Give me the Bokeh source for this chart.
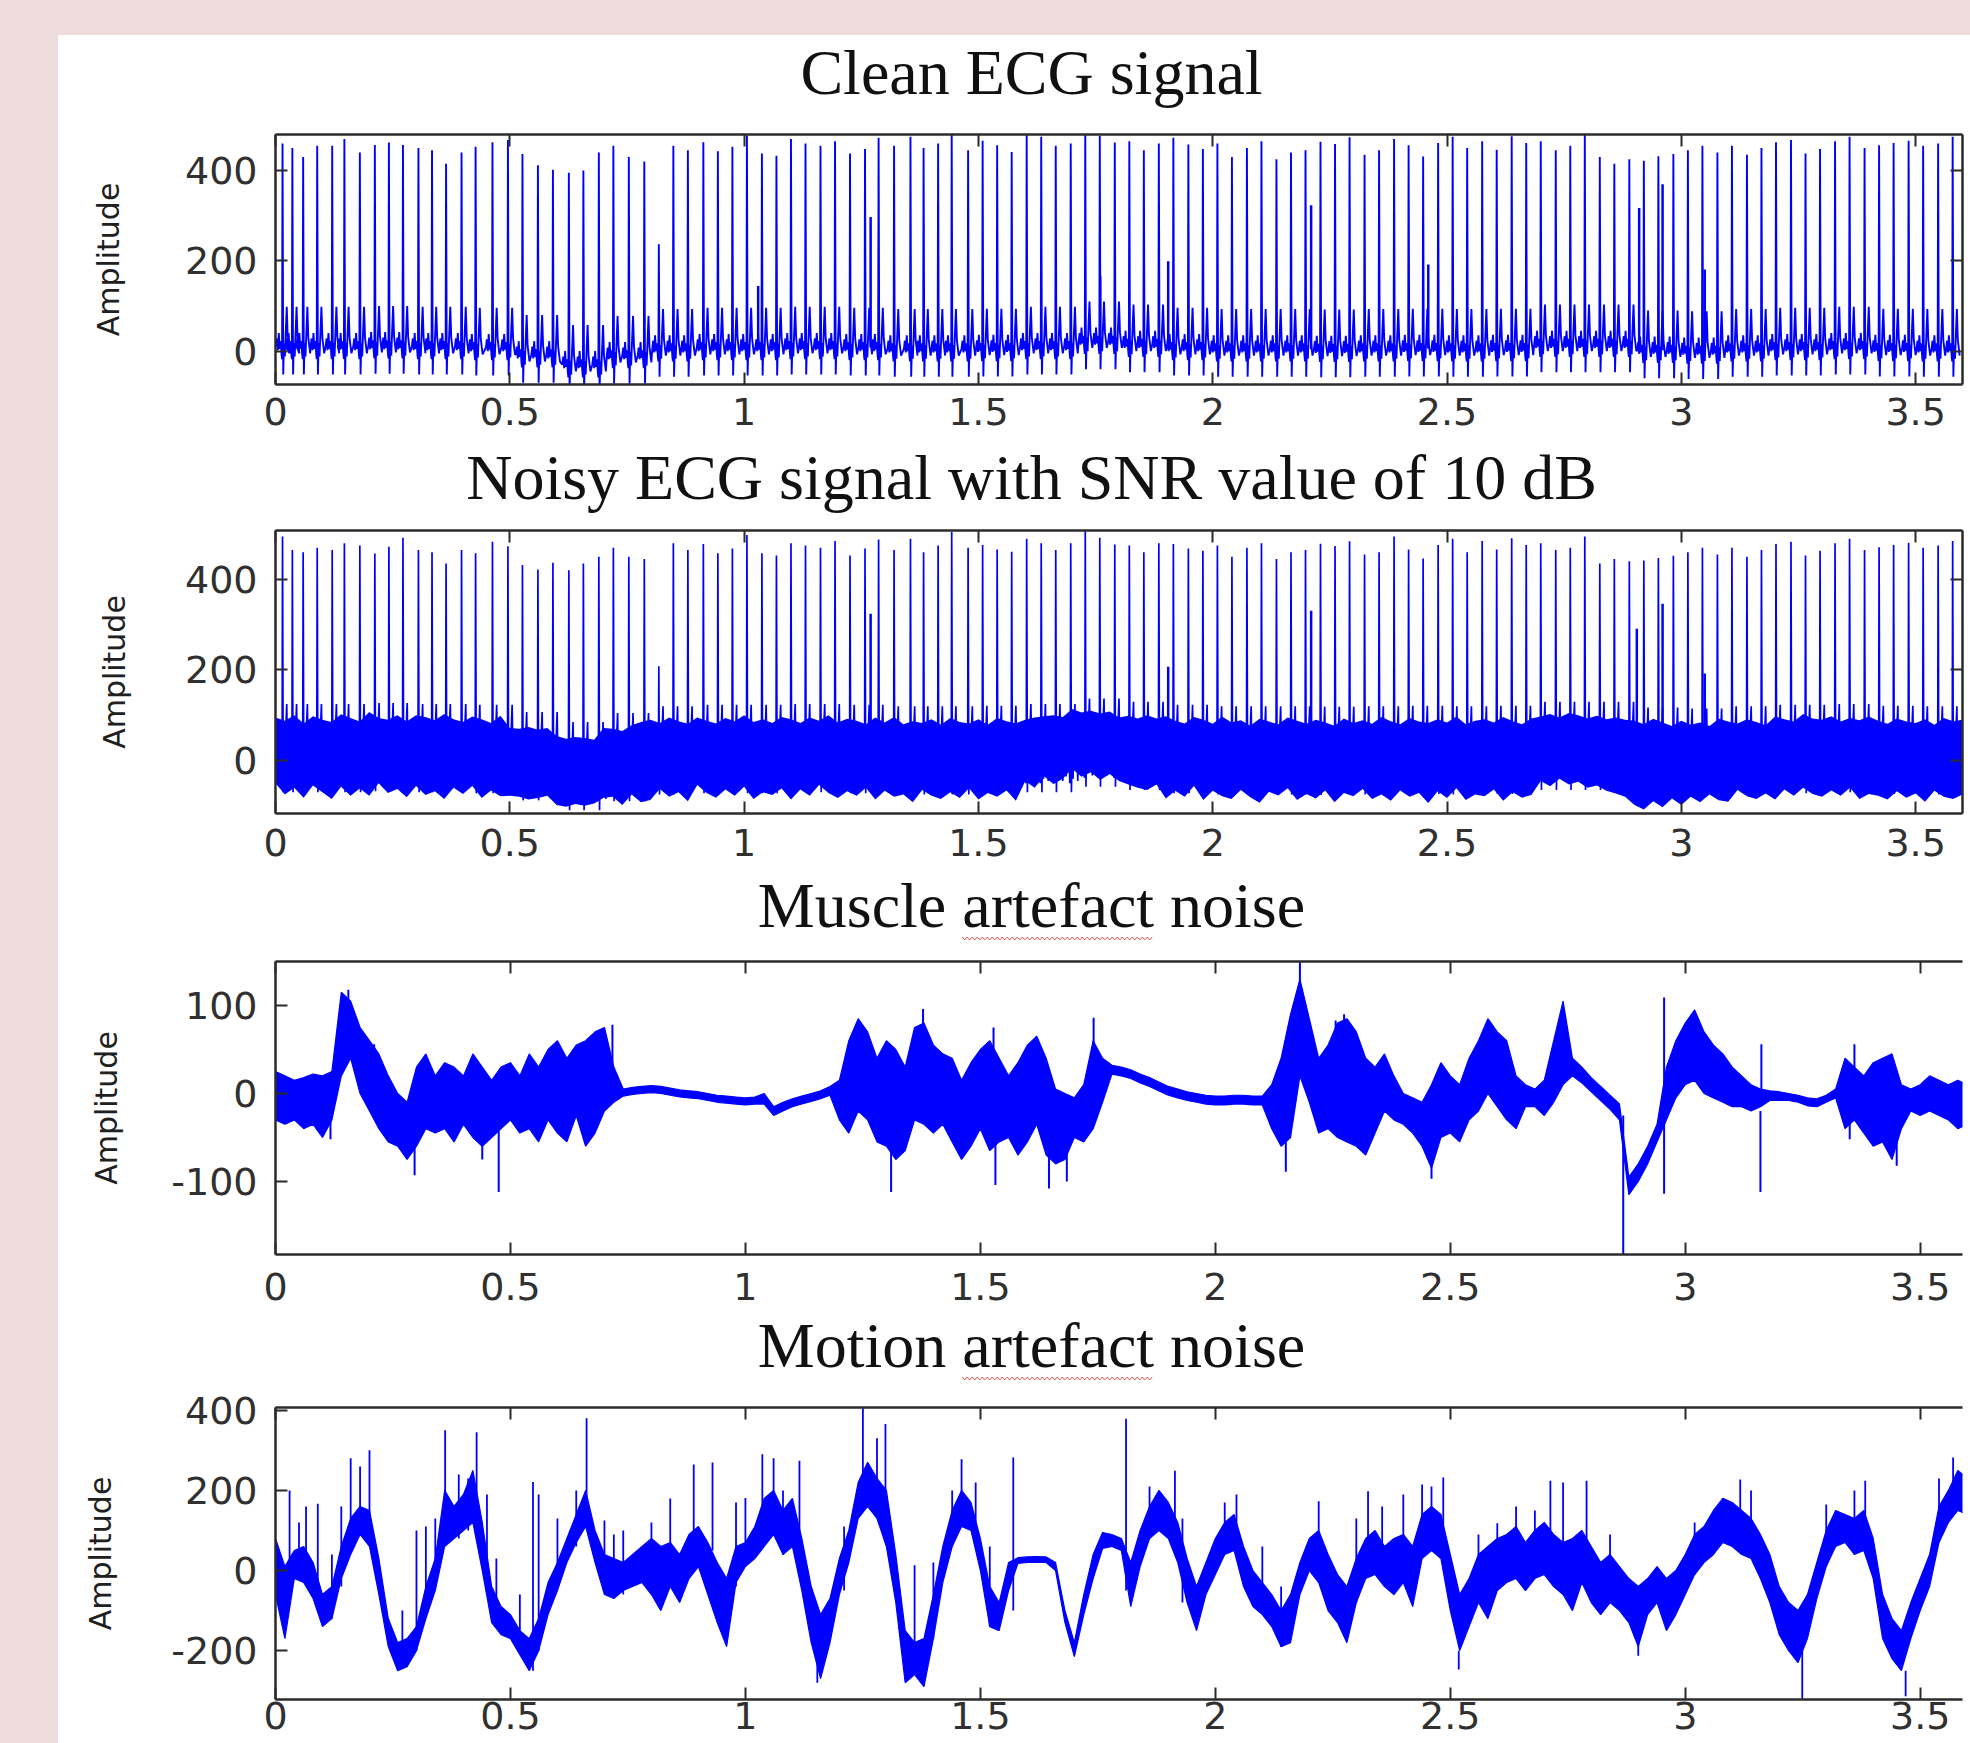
import numpy as np
from bokeh.plotting import figure
from bokeh.models import LinearAxis, FixedTicker, Range1d
from bokeh.layouts import column
from bokeh.embed import file_html
from bokeh.resources import INLINE
from bokeh.core.properties import value

# ---------------------------------------------------------------- data
titles = ["Clean ECG signal",
          "Noisy ECG signal with SNR value of 10 dB",
          "Muscle artefact noise",
          "Motion artefact noise"]
y_label = "Amplitude"

x_ticks = [0, 0.5, 1, 1.5, 2, 2.5, 3, 3.5]
x_tick_labels = ["0", "0.5", "1", "1.5", "2", "2.5", "3", "3.5"]
ecg_y_ticks = [0, 200, 400]
mus_y_ticks = [-100, 0, 100]
mot_y_ticks = [-200, 0, 200, 400]

# R-peak times of the ECG beats
beat_t = [
    0.015, 0.036, 0.059, 0.089, 0.121, 0.147, 0.180, 0.212, 0.242, 0.272,
    0.305, 0.334, 0.364, 0.397, 0.427, 0.463, 0.496, 0.527, 0.560, 0.592,
    0.626, 0.657, 0.690, 0.721, 0.754, 0.787, 0.818, 0.849, 0.880, 0.913, 0.944,
    0.975, 1.006, 1.038, 1.069, 1.100, 1.131, 1.163, 1.194, 1.226, 1.258,
    1.287, 1.320, 1.355, 1.383, 1.414, 1.443, 1.478, 1.509, 1.540, 1.571,
    1.603, 1.634, 1.665, 1.697, 1.728, 1.759, 1.791, 1.822, 1.853, 1.885,
    1.916, 1.948, 1.979, 2.010, 2.041, 2.073, 2.104, 2.136, 2.167, 2.198,
    2.230, 2.261, 2.292, 2.324, 2.355, 2.387, 2.418, 2.449, 2.481, 2.512,
    2.543, 2.575, 2.606, 2.638, 2.669, 2.700, 2.732, 2.763, 2.794, 2.826,
    2.857, 2.889, 2.920, 2.951, 2.983, 3.014, 3.045, 3.077, 3.108, 3.140,
    3.171, 3.202, 3.234, 3.265, 3.296, 3.328, 3.359, 3.391, 3.422, 3.453,
    3.485, 3.516, 3.548, 3.579]
clean_h = [
    450, 440, 420, 445, 445, 460, 430, 445, 450, 445,
    440, 435, 405, 430, 445, 455, 460, 445, 420, 410,
    425, 430, 470, 465, 440, 430, 232, 450, 440, 455, 435,
    445, 470, 430, 425, 460, 450, 445, 455, 430, 440,
    465, 450, 470, 445, 455, 475, 440, 460, 450, 435,
    470, 465, 445, 450, 475, 455, 440, 450, 430, 445,
    465, 450, 440, 455, 425, 445, 460, 420, 435, 440,
    460, 455, 470, 430, 440, 465, 450, 425, 455, 470,
    445, 460, 440, 470, 455, 450, 430, 440, 465, 415,
    400, 410, 420, 430, 435, 445, 455, 440, 450, 430,
    445, 455, 460, 430, 440, 455, 465, 440, 450, 455,
    460, 450, 455, 470]
noisy_h = [
    485, 455, 450, 460, 455, 470, 465, 445, 460, 480,
    455, 450, 425, 455, 450, 475, 465, 440, 430, 445,
    450, 465, 480, 480, 460, 455, 203, 475, 460, 470, 450,
    460, 490, 450, 445, 470, 465, 460, 475, 445, 460,
    480, 460, 485, 455, 470, 500, 465, 470, 460, 455,
    480, 470, 455, 470, 495, 470, 455, 460, 445, 465,
    470, 460, 455, 470, 445, 465, 475, 440, 455, 460,
    475, 470, 480, 450, 455, 490, 460, 440, 470, 485,
    455, 480, 460, 485, 470, 465, 450, 455, 480, 420,
    430, 425, 440, 445, 450, 460, 470, 455, 465, 445,
    460, 470, 475, 445, 455, 470, 480, 455, 465, 470,
    475, 465, 470, 480]
# baseline wander, one value per 0.1 s
base_level = [10, 10, 12, 10, 8, -8, -30, -10, 5, 8, 8, 10, 8, 5, 5, 6, 10, 22, 15,
              8, 5, 5, 4, 5, 6, 5, 6, 15, 15, 2, 0, 5, 8, 10, 6, 5, 5]
# one beat: offsets from the R peak and levels above baseline (None = R peak)
beat_dt = [-0.014, -0.012, -0.010, -0.008, -0.006, -0.004, -0.002, -0.001, 0.0,
           0.0015, 0.003, 0.005, 0.007, 0.009, 0.011, 0.013, 0.015]
clean_shape = [0, 18, -8, 30, -5, 12, -18, -28, None, -62, 8, -22, 35, 88, 20, 2, -15]
noisy_shape = [0, 40, -45, 55, -30, 35, -60, -40, None, -80, 30, -50, 60, 115, -20, 45, -55]
# smaller intermediate spikes
clean_ext_t = [1.03, 1.27, 1.76, 1.905, 2.21, 2.46, 2.91, 2.96, 3.05]
clean_ext_h = [144, 297, 166, 199, 323, 192, 317, 370, 181]
noisy_ext_t = [1.27, 1.905, 2.21, 2.905, 2.96, 3.05]
noisy_ext_h = [324, 207, 331, 291, 346, 192]

step = 0.02  # sampling step of the envelope series below
# noise band of the noisy ECG (upper / lower edge, above the baseline)
nz_hi = [85, 78, 90, 72, 88, 80, 75, 92, 84, 76, 95, 82, 78, 88, 74, 90, 86, 79, 93, 81, 77, 89, 83, 75, 91,
         80, 78, 82, 76, 80, 84, 78, 82, 80, 76, 82,
         80, 75, 88, 95, 85, 78, 90, 82, 76, 87, 80, 74, 86, 79, 92, 77, 83, 75, 88, 81,
         73, 85, 78, 90, 76, 84, 80, 72, 87, 79, 91, 75, 82, 78, 86, 74, 89, 80, 77, 85, 73, 88, 81, 76,
         80, 85, 88, 90, 86, 92, 84, 88, 82, 86, 80, 84, 78,
         85, 78, 90, 80, 74, 88, 82, 76, 92, 79, 84, 72, 87, 81, 75, 90, 83, 77, 86, 80,
         73, 89, 78, 84, 76, 91, 82, 74, 88, 80, 77, 85, 79, 92, 75, 83, 86, 78, 90, 81, 74, 87,
         82, 88, 80, 90, 85, 78, 84, 76,
         80, 75, 86, 78, 90, 82, 74, 88, 79, 84, 76, 92, 81, 77, 86, 80, 73, 89, 83, 78,
         95, 85, 80, 88, 76, 84, 79, 91, 82, 75, 87, 80, 78, 86, 74, 89, 82, 85]
nz_lo = [-60, -85, -70, -92, -65, -80, -95, -68, -88, -72, -90, -62, -84, -75, -93, -66, -86, -78, -95, -70,
         -82, -64, -91, -74, -87,
         -70, -72, -78, -75, -70, -68, -72, -66, -70, -65, -72,
         -70, -88, -65, -82, -92, -68, -85, -75, -95, -62, -80, -90, -72, -86, -66, -93, -78, -84, -70, -96,
         -74, -88, -64, -82, -91, -76, -86, -68, -94, -72, -85, -80, -97, -70, -83, -90, -75, -88, -66, -92,
         -78, -86, -72, -95,
         -55, -70, -45, -62, -50, -40, -58, -48, -65, -52, -60, -68, -75,
         -80, -68, -92, -75, -88, -64, -95, -72, -84, -90, -70, -86, -98, -74, -82, -66, -92, -78, -88, -70,
         -96, -76, -84, -68, -90, -80, -94, -72, -86, -78, -100, -74, -88, -66, -92, -80, -84, -70, -95, -76,
         -88, -82,
         -60, -72, -55, -68, -62, -75, -70, -82,
         -88, -95, -100, -110, -92, -105, -86, -98, -80, -92, -75, -88, -96, -70, -84, -90, -78, -94, -72, -86,
         -68, -82, -90, -76, -88, -70, -95, -80, -84, -92, -74, -88, -78, -96, -72, -85, -90, -80]

# muscle artefact noise (upper / lower edge of the trace)
mus_hi = [25, 20, 15, 18, 22, 20, 25, 115, 105, 75, 60, 45, 20, 0, -10, 30, 45, 20, 35, 30,
          20, 45, 30, 15, 30, 35, 20, 45, 30, 50, 60, 40, 55, 60, 70, 75, 30,
          5, 7, 8, 9, 8, 6, 4, 3, 2, 0, -2, -3, -4, -5, -4, 0, -15, -10, -6, -3, 0, 3, 8,
          15, 60, 85, 70, 40, 60, 50, 30, 75, 80, 55, 45, 40, 15, 35, 50, 60, 40, 20, 35,
          55, 65, 40, 5, 0, -5, 10, 60, 40,
          32, 30, 27, 22, 18, 13, 8, 5, 2, 0, -2, -3, -3, -2, -2, -3, -3,
          10, 40, 90, 130, 85, 40, 55, 80, 85, 70, 40, 30, 45, 20, 0, -5, -10, 10, 35, 20,
          10, 40, 60, 85, 70, 60, 20, 10, 5, 15, 60, 105, 40, 30, 18, 8, -2, -12,
          -95, -80, -60, -35, 30, 60, 80, 95, 70, 55, 45, 30, 20, 10, 5, 3, 2, 0, -2, -5,
          -6, -2, 5, 40, 30, 20, 35, 40, 45, 10, 5, 10, 20, 15, 10, 15, 10]
mus_lo = [-30, -35, -30, -40, -35, -50, -30, 20, 40, 0, -20, -40, -55, -60, -75, -60, -40, -45, -40, -55,
          -35, -50, -60, -50, -40, -30, -45, -40, -55, -30, -45, -55, -25, -60, -45, -20, -10,
          -3, -1, 0, 1, 0, -2, -4, -5, -6, -8, -10, -11, -12, -13, -12, -12, -25, -20, -15, -12, -9, -6, -2,
          -30, -45, -20, -30, -55, -60, -75, -65, -30, -35, -45, -35, -55, -75, -60, -40, -65, -55, -50, -70,
          -55, -35, -70, -80, -75, -50, -55, -40, -10,
          22, 20, 17, 12, 8, 3, -2, -5, -8, -10, -12, -13, -13, -12, -12, -13, -13,
          -40, -60, -50, 20, -10, -45, -40, -50, -55, -60, -70, -45, -20, -30, -35, -45, -60, -85, -50, -45,
          -55, -30, -20, 0, -15, -30, -40, -15, -15, -25, -10, 10, 20, 12, 2, -8, -18, -30,
          -115, -100, -80, -55, -30, -5, 10, 15, 0, -5, -10, -15, -15, -20, -15, -8, -8, -8, -10, -14,
          -15, -10, -5, -40, -30, -45, -60, -55, -75, -40, -20, -25, -20, -25, -30, -40, -35]
mus_spk_t = [0.117, 0.155, 0.21, 0.296, 0.44, 0.475, 0.717, 1.31, 1.378, 1.528, 1.532, 1.646, 1.684,
             1.741, 2.15, 2.18, 2.256, 2.274, 2.46, 2.868, 2.955, 3.16, 3.162, 3.35, 3.36, 3.45]
mus_spk_y0 = [-10, 60, 20, -40, -30, -20, 30, -40, 40, 30, -30, -40, -40,
              20, -40, 60, 40, 50, -40, -25, -114, -20, 0, -20, 20, -50]
mus_spk_y1 = [-52, 118, 56, -93, -75, -112, 78, -112, 96, 75, -104, -108, -100,
              86, -89, 150, 83, 90, -97, -183, 109, -112, 56, -52, 56, -82]

# motion artefact noise (upper / lower edge of the trace)
mot_hi = [80, 10, 50, 60, 20, -60, -40, 60, 130, 160, 150, 30, -120, -180, -170, -140, -40, 30, 200, 160,
          190, 250, 120, -40, -90,
          -110, -150, -170, -120, -30, 20, 80, 140, 200, 100, 40, 30, 20, 40, 60, 80, 60, 70, 40, 90,
          110, 70, 20, -20, 60,
          70, 110, 180, 200, 150, 180, 80, -40, -110, -70, 30, 100, 220, 270, 230, 200, 40, -150, -180, -170,
          -60, 60, 150, 200, 170,
          80, -40, -80, 20, 32, 34, 35, 34, 20, -100, -180, -60, 40, 95, 90, 80, 20, 100, 160, 200,
          170, 120, 30, -40, 20,
          80, 120, 140, 60, 0, -30, -60, -100, -60, 20, 80, 100, 40, -10, -40, 30, 80, 100, 60, 80,
          90, 60, 140, 160, 140,
          40, -60, -20, 40, 60, 80, 90, 110, 70, 100, 120, 90, 70, 80, 100, 60, 20, 40, 10, -20,
          -40, -20, 10, -20, 0,
          40, 90, 110, 150, 180, 170, 150, 130, 90, 40, -40, -80, -100, -60, 20, 100, 150, 140, 130, 150,
          80, -60, -120, -150, -80,
          -20, 40, 160, 200, 250, 230]
mot_lo = [-60, -170, -20, -30, -70, -140, -120, -20, 40, 90, 60, -60, -190, -250, -240, -200, -120, -50, 60, 80,
          100, 120, 0, -130, -160,
          -170, -210, -250, -200, -110, -50, 20, 70, 110, 20, -60, -70, -50, -40, -30, -60, -100, -40, -80, -20,
          10, -60, -130, -190, -30,
          10, 30, 60, 90, 40, 60, -50, -180, -270, -180, -60, 20, 130, 160, 130, 60, -80, -280, -260, -290,
          -170, -30, 60, 110, 100,
          0, -140, -150, -50, 18, 20, 21, 20, 0, -130, -215, -110, -20, 55, 60, 50, -90, 10, 80, 100,
          80, 20, -80, -150, -60,
          -10, 40, 50, -40, -90, -110, -140, -190, -180, -60, 0, -30, -100, -130, -180, -80, -20, -10, -40, -60,
          -30, -90, 30, 50, 30,
          -100, -200, -140, -80, -120, -50, -30, -20, -50, -20, -10, -40, -60, -100, -30, -80, -110, -80, -100, -130,
          -190, -110, -80, -150, -110,
          -60, -10, 20, 40, 70, 60, 40, 30, -20, -80, -160, -200, -230, -170, -70, 10, 60, 70, 40, 50,
          -20, -170, -220, -250, -170,
          -100, -40, 70, 120, 150, 140]
mot_spk_t = [0.03, 0.05, 0.065, 0.09, 0.12, 0.14, 0.16, 0.18, 0.20, 0.27, 0.30, 0.32, 0.34, 0.361, 0.39,
             0.41, 0.428, 0.45, 0.47, 0.52, 0.548, 0.56, 0.60, 0.64, 0.662, 0.70, 0.72, 0.74, 0.80, 0.84,
             0.89, 0.93, 0.98, 1.0, 1.036, 1.06, 1.08, 1.115, 1.153, 1.21, 1.25, 1.28, 1.298, 1.36, 1.40,
             1.44, 1.46, 1.49, 1.52, 1.57, 1.81, 1.86, 1.914, 1.93, 2.02, 2.045, 2.10, 2.14, 2.22, 2.30,
             2.325, 2.355, 2.40, 2.44, 2.46, 2.485, 2.518, 2.56, 2.60, 2.64, 2.68, 2.713, 2.74, 2.79, 2.84,
             2.90, 3.02, 3.08, 3.117, 3.14, 3.249, 3.30, 3.36, 3.383, 3.469, 3.54, 3.57]
mot_spk_y0 = [0, 0, -20, -60, -120, -40, 100, 100, 100, -220, -200, -100, -40, 150, 80,
              100, 150, 0, -120, -200, -250, -200, -40, 60, 150, -50, -60, -60, -50, -40,
              50, 50, -40, 40, 150, 150, 40, 100, -150, -50, 200, 130, 200, -200, -170,
              60, 150, 120, -140, -100, -50, 80, 120, -80, 40, 100, -90, -190, -30, -80,
              50, 50, 50, 100, 50, 60, -200, -80, -40, -20, -20, 50, -60, 50, -80,
              -150, -10, 70, 150, 30, -200, 10, 40, 100, -250, 70, 200]
mot_spk_y1 = [200, 120, 160, 167, 40, 160, 280, 260, 300, -100, 100, 110, 130, 350, 240,
              230, 345, 190, 30, -60, 221, 190, 130, 200, 380, 125, 90, 100, 120, 180,
              265, 270, 170, 181, 290, 280, 200, 274, -280, 110, 405, 330, 366, 13, 20,
              200, 278, 220, 60, 282, 379, 210, 249, 130, 170, 190, 60, -40, 173, 130,
              198, 160, 190, 215, 210, 232, -247, 90, 118, 160, 150, 224, 220, 224, 90,
              -213, 120, 181, 227, 200, -320, 165, 200, 224, -314, 230, 282]

# ---------------------------------------------------------------- helpers
BLUE = "#0000FF"
AXC = "#2b2b2b"
PAGE_W = 1912          # white sheet width (sheet starts at x=58 of the page)
FRAME_L = 217          # common frame left inside the sheet (column aligns frames)
FRAME_R = 8            # common right border
TITLE_CX = 973         # title centre inside the sheet
TEXT_FIX = 23          # glyph text sits lower than its anchor by this much
EM = {"Clean ECG signal": 7.222, "Noisy ECG signal with SNR value of 10 dB": 17.667,
      "Muscle artefact noise": 8.553, "Motion artefact noise": 8.554}
TITLE_PX = 64
TICK_FONT = "38px"


def base_at(t):
    return base_level[min(int(t * 10), len(base_level) - 1)]


def ecg_trace(heights, shape):
    xs, ys = [], []
    for t, h in zip(beat_t, heights):
        b = base_at(t)
        for dt, v in zip(beat_dt, shape):
            xs.append(t + dt)
            ys.append(b + (h if v is None else v))
    return xs, ys


def grid_of(series):
    return [round(i * step, 3) for i in range(len(series))]


def style_axis(a, labels):
    a.major_tick_in = 12
    a.major_tick_out = 0
    a.minor_tick_in = 0
    a.minor_tick_out = 0
    a.major_tick_line_color = AXC
    a.major_tick_line_width = 2
    a.axis_line_color = AXC
    a.axis_line_width = 2.5
    if labels:
        a.major_label_text_font = "DejaVu Sans"
        a.major_label_text_font_size = TICK_FONT
        a.major_label_text_color = "#303030"
    else:
        a.major_label_text_color = None
        a.major_label_standoff = 0


def title_fig(text, height, baseline, squiggle=False):
    t = figure(width=PAGE_W, height=height,
               x_range=Range1d(FRAME_L, PAGE_W - FRAME_R), y_range=Range1d(0, height),
               output_backend="svg", toolbar_location=None, tools="",
               x_axis_location=None, y_axis_location=None,
               min_border_left=FRAME_L, min_border_right=FRAME_R, min_border_top=0, min_border_bottom=0)
    t.outline_line_color = None
    t.grid.visible = False
    t.background_fill_color = "white"
    t.border_fill_color = "white"
    t.text(x=[TITLE_CX], y=[baseline + TEXT_FIX], text=[text], text_font=value("Liberation Serif"),
           text_font_size=f"{TITLE_PX}px", text_align="center", text_baseline="alphabetic",
           text_color="#111111")
    if squiggle:
        left = TITLE_CX - EM[text] * TITLE_PX / 2 + 3.194 * TITLE_PX
        xs = np.arange(left, left + 2.998 * TITLE_PX, 2.5)
        ys = baseline - 10 + np.where(np.arange(len(xs)) % 2 == 0, 1.5, -1.5)
        t.line(xs, ys, line_color="#e05a5a", line_width=1)
    return t


def panel(height, border_top, border_bottom, x_end, y_start, y_end, yticks,
          xlabel_standoff, right_axis, ylabel_standoff):
    p = figure(width=PAGE_W, height=height, x_range=Range1d(0, x_end), y_range=Range1d(y_start, y_end),
               output_backend="svg", toolbar_location=None, tools="",
               x_axis_location=None, y_axis_location=None,
               min_border_left=FRAME_L, min_border_right=FRAME_R,
               min_border_top=border_top, min_border_bottom=border_bottom)
    p.outline_line_color = None
    p.grid.visible = False
    p.background_fill_color = "white"
    p.border_fill_color = "white"

    xb = LinearAxis(ticker=FixedTicker(ticks=x_ticks),
                    major_label_overrides=dict(zip(x_ticks, x_tick_labels)))
    style_axis(xb, True)
    xb.major_label_standoff = xlabel_standoff
    p.add_layout(xb, "below")

    xa = LinearAxis(ticker=FixedTicker(ticks=x_ticks))
    style_axis(xa, False)
    p.add_layout(xa, "above")

    yl = LinearAxis(ticker=FixedTicker(ticks=yticks),
                    major_label_overrides={v: str(v) for v in yticks},
                    axis_label=y_label)
    style_axis(yl, True)
    yl.major_label_standoff = 18
    yl.axis_label_text_font = "DejaVu Sans"
    yl.axis_label_text_font_size = "30px"
    yl.axis_label_text_font_style = "normal"
    yl.axis_label_text_color = "#202020"
    yl.axis_label_standoff = ylabel_standoff
    p.add_layout(yl, "left")

    if right_axis:
        yr = LinearAxis(ticker=FixedTicker(ticks=yticks))
        style_axis(yr, False)
        p.add_layout(yr, "right")
    return p


# ---------------------------------------------------------------- panel 1 : clean ECG
t1 = title_fig(titles[0], 89, 29)
p1 = panel(313, 10, 53, 3.6, -74, 480, ecg_y_ticks, 13, True, 56)
cx, cy = ecg_trace(clean_h, clean_shape)
p1.line(cx, cy, line_color=BLUE, line_width=1.9)
p1.segment(x0=clean_ext_t, y0=[base_at(t) for t in clean_ext_t], x1=clean_ext_t, y1=clean_ext_h,
           line_color=BLUE, line_width=2.5)

# ---------------------------------------------------------------- panel 2 : noisy ECG
t2 = title_fig(titles[1], 83, 20)
p2 = panel(346, 10, 53, 3.6, -117, 508, ecg_y_ticks, 15, True, 50)
n = min(len(nz_hi), len(nz_lo))
nz_t = grid_of(nz_hi[:n])
nb = [base_at(t) for t in nz_t]
p2.varea(x=nz_t, y1=[b + v for b, v in zip(nb, nz_lo[:n])], y2=[b + v for b, v in zip(nb, nz_hi[:n])],
         fill_color=BLUE)
nx, ny = ecg_trace(noisy_h, noisy_shape)
p2.line(nx, ny, line_color=BLUE, line_width=1.7)
p2.segment(x0=noisy_ext_t, y0=[base_at(t) for t in noisy_ext_t], x1=noisy_ext_t, y1=noisy_ext_h,
           line_color=BLUE, line_width=2.5)

# ---------------------------------------------------------------- panel 3 : muscle artefact
t3 = title_fig(titles[2], 85, 23, squiggle=True)
p3 = panel(358, 10, 55, 3.59, -183, 150, mus_y_ticks, 18, False, 44)
m = min(len(mus_hi), len(mus_lo))
mt = grid_of(mus_hi[:m])
p3.varea(x=mt, y1=mus_lo[:m], y2=mus_hi[:m], fill_color=BLUE)
p3.line(mt, mus_hi[:m], line_color=BLUE, line_width=1.2)
p3.line(mt, mus_lo[:m], line_color=BLUE, line_width=1.2)
p3.segment(x0=mus_spk_t, y0=mus_spk_y0, x1=mus_spk_t, y1=mus_spk_y1, line_color=BLUE, line_width=2)

# ---------------------------------------------------------------- panel 4 : motion artefact
t4 = title_fig(titles[3], 76, 17, squiggle=True)
p4 = panel(358, 22, 44, 3.59, -322, 407, mot_y_ticks, 2, False, 50)
k = min(len(mot_hi), len(mot_lo))
kt = grid_of(mot_hi[:k])
p4.varea(x=kt, y1=mot_lo[:k], y2=mot_hi[:k], fill_color=BLUE)
p4.line(kt, mot_hi[:k], line_color=BLUE, line_width=1.2)
p4.line(kt, mot_lo[:k], line_color=BLUE, line_width=1.2)
p4.segment(x0=mot_spk_t, y0=mot_spk_y0, x1=mot_spk_t, y1=mot_spk_y1, line_color=BLUE, line_width=1.8)

sheet = column(t1, p1, t2, p2, t3, p3, t4, p4, spacing=0,
               styles={"background-color": "white"}, margin=(35, 0, 0, 58))
layout = column(sheet, spacing=0, styles={"background-color": "#EEDCDC"})

open("out.html", "w").write(file_html(layout, INLINE))
